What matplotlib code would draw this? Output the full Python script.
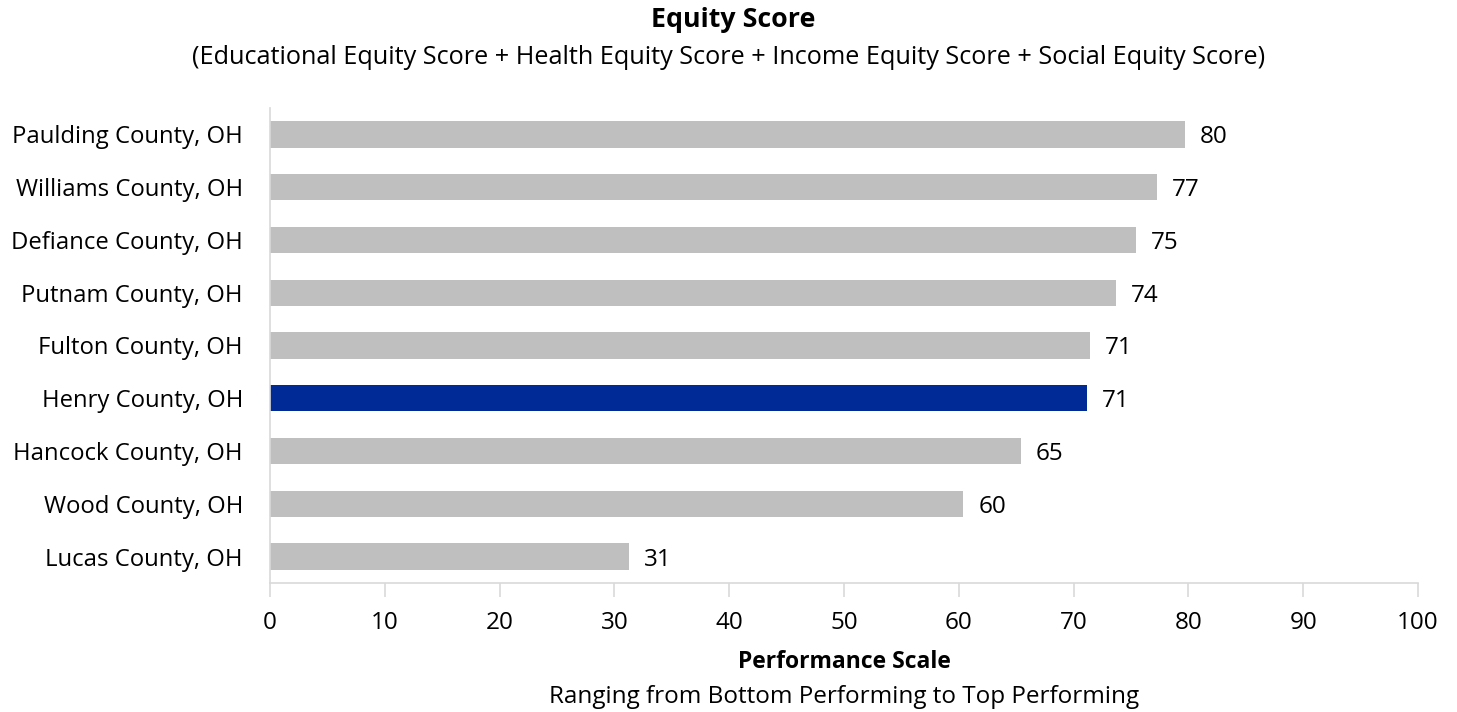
import matplotlib
matplotlib.use("Agg")
import matplotlib.pyplot as plt

plt.rcParams['font.family'] = ['Open Sans', 'DejaVu Sans']

counties = ["Paulding County, OH", "Williams County, OH", "Defiance County, OH",
            "Putnam County, OH", "Fulton County, OH", "Henry County, OH",
            "Hancock County, OH", "Wood County, OH", "Lucas County, OH"]
scores = [79.7, 77.3, 75.4, 73.7, 71.4, 71.2, 65.4, 60.4, 31.3]
labels = ["80", "77", "75", "74", "71", "71", "65", "60", "31"]
highlight = "Henry County, OH"

colors = ['#002A96' if c == highlight else '#BFBFBF' for c in counties]

fig = plt.figure(figsize=(14.57, 7.12), dpi=100)
ax = fig.add_axes([270/1457, 1-583/712, 1148/1457, 475/712])

y = range(len(counties))
ax.barh(y, scores, height=0.5, color=colors)
ax.set_ylim(len(counties)-0.5, -0.5)
ax.set_xlim(0, 100)
ax.set_yticks(list(y))
ax.set_yticklabels(counties, fontsize=17.2)
ax.set_xticks(range(0, 101, 10))
ax.tick_params(axis='x', labelsize=17.5, length=10, width=1.2, color='#D9D9D9', pad=10)
ax.tick_params(axis='y', length=0, pad=19.5)

for i, (s, lab) in enumerate(zip(scores, labels)):
    ax.text(s + 1.3, i, lab, va='center_baseline', ha='left', fontsize=17.5)

for side in ['top', 'right']:
    ax.spines[side].set_visible(False)
for side in ['left', 'bottom']:
    ax.spines[side].set_color('#D9D9D9')
    ax.spines[side].set_linewidth(1.2)

fig.text(733/1457, 1-20/712, "Equity Score", ha='center', va='center', fontsize=19.3, fontweight='bold')
fig.text(729/1457, 1-57/712,
         "(Educational Equity Score + Health Equity Score + Income Equity Score + Social Equity Score)",
         ha='center', va='center', fontsize=18.2)
fig.text(844/1457, 1-662/712, "Performance Scale", ha='center', va='center', fontsize=16.5, fontweight='bold')
fig.text(844/1457, 1-697/712, "Ranging from Bottom Performing to Top Performing",
         ha='center', va='center', fontsize=17.5)

fig.savefig("out.png", dpi=100)
